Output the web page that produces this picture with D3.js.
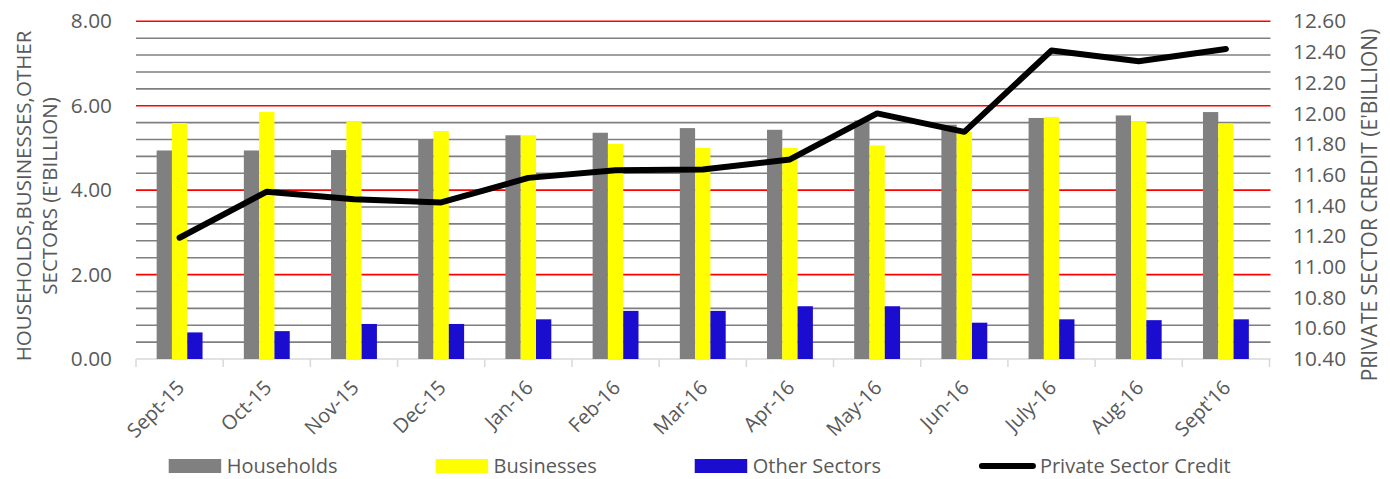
<!DOCTYPE html>
<html>
<head>
<meta charset="utf-8">
<script src="https://cdn.jsdelivr.net/npm/d3@7"></script>
<style>
    body { margin: 0; background: #fff; }
    text { font-family: "Open Sans", sans-serif; fill: #595959; }
</style>
</head>
<body>
<div id="wrapper"></div>
<script>
const months = ["Sept-15", "Oct-15", "Nov-15", "Dec-15", "Jan-16", "Feb-16", "Mar-16", "Apr-16", "May-16", "Jun-16", "July-16", "Aug-16", "Sept'16"];
const households = [4.94, 4.94, 4.95, 5.19, 5.30, 5.36, 5.47, 5.43, 5.65, 5.55, 5.71, 5.77, 5.85];
const businesses = [5.59, 5.85, 5.62, 5.40, 5.30, 5.10, 5.00, 5.00, 5.06, 5.38, 5.73, 5.62, 5.58];
const otherSectors = [0.63, 0.66, 0.83, 0.83, 0.94, 1.14, 1.14, 1.25, 1.25, 0.86, 0.94, 0.92, 0.94];
const privateCredit = [11.19, 11.49, 11.44, 11.42, 11.58, 11.63, 11.635, 11.70, 12.00, 11.88, 12.41, 12.34, 12.42];

const leftTicks = [0, 2, 4, 6, 8];
const rightTicks = [10.4, 10.6, 10.8, 11.0, 11.2, 11.4, 11.6, 11.8, 12.0, 12.2, 12.4, 12.6];
const gridValues = [0.4, 0.8, 1.2, 1.6, 2, 2.4, 2.8, 3.2, 3.6, 4, 4.4, 4.8, 5.2, 5.6, 6, 6.4, 6.8, 7.2, 7.6, 8];

const barSeries = [
    { key: "Households", values: households, color: "#808080" },
    { key: "Businesses", values: businesses, color: "#ffff00" },
    { key: "Other Sectors", values: otherSectors, color: "#1a0dcf" },
];

const dimensions = {
    width: 1390,
    height: 479,
    margin: {
        top: 21.3,
        right: 120.5,
        bottom: 120,
        left: 136,
    },
}
dimensions.right = dimensions.width - dimensions.margin.right;
dimensions.bottom = dimensions.height - dimensions.margin.bottom;

const wrapper = d3.select("#wrapper")
    .append("svg")
    .attr("width", dimensions.width)
    .attr("height", dimensions.height);

const xScale = d3.scaleBand()
    .domain(months)
    .range([dimensions.margin.left, dimensions.right]);

const seriesScale = d3.scaleBand()
    .domain(barSeries.map(d => d.key))
    .range([0, xScale.bandwidth()])
    .paddingInner(0)
    .paddingOuter(1.35);

const yLeft = d3.scaleLinear()
    .domain([0, 8])
    .range([dimensions.bottom, dimensions.margin.top]);

const yRight = d3.scaleLinear()
    .domain([10.4, 12.6])
    .range([dimensions.bottom, dimensions.margin.top]);

// gridlines, red on the labelled values
wrapper.append("g")
    .selectAll("line")
    .data(gridValues)
    .enter()
    .append("line")
    .attr("x1", dimensions.margin.left)
    .attr("x2", dimensions.right + 1)
    .attr("y1", d => yLeft(d))
    .attr("y2", d => yLeft(d))
    .attr("stroke", d => (d % 2 === 0 ? "#ff0000" : "#7f7f7f"))
    .attr("stroke-width", 1.6);

// baseline and category ticks
const xAxisLine = wrapper.append("g");
xAxisLine.append("line")
    .attr("x1", dimensions.margin.left)
    .attr("x2", dimensions.right + 1)
    .attr("y1", dimensions.bottom)
    .attr("y2", dimensions.bottom)
    .attr("stroke", "#d9d9d9")
    .attr("stroke-width", 1.5);
xAxisLine.selectAll(".cat-tick")
    .data([...months.map(m => xScale(m)), dimensions.right])
    .enter()
    .append("line")
    .attr("class", "cat-tick")
    .attr("x1", d => d)
    .attr("x2", d => d)
    .attr("y1", dimensions.bottom)
    .attr("y2", dimensions.bottom + 8)
    .attr("stroke", "#d9d9d9")
    .attr("stroke-width", 1.5);

// bars
barSeries.forEach(s => {
    wrapper.append("g")
        .selectAll("rect")
        .data(s.values)
        .enter()
        .append("rect")
        .attr("x", (d, i) => xScale(months[i]) + seriesScale(s.key))
        .attr("y", d => yLeft(d))
        .attr("width", seriesScale.bandwidth())
        .attr("height", d => yLeft(0) - yLeft(d))
        .attr("fill", s.color);
});

// private sector credit line
const line = d3.line()
    .x((d, i) => xScale(months[i]) + xScale.bandwidth() / 2)
    .y(d => yRight(d));

wrapper.append("path")
    .datum(privateCredit)
    .attr("d", line)
    .attr("fill", "none")
    .attr("stroke", "#000")
    .attr("stroke-width", 6)
    .attr("stroke-linejoin", "round")
    .attr("stroke-linecap", "round");

// axes
const leftAxis = wrapper.append("g")
    .attr("transform", `translate(${dimensions.margin.left},0)`)
    .call(d3.axisLeft(yLeft).tickValues(leftTicks).tickFormat(d3.format(".2f")).tickSize(0).tickPadding(24));

const rightAxis = wrapper.append("g")
    .attr("transform", `translate(${dimensions.right},0)`)
    .call(d3.axisRight(yRight).tickValues(rightTicks).tickFormat(d3.format(".2f")).tickSize(0).tickPadding(23.5));

const bottomAxis = wrapper.append("g")
    .attr("transform", `translate(0,${dimensions.bottom})`)
    .call(d3.axisBottom(xScale).tickSize(0));

[leftAxis, rightAxis, bottomAxis].forEach(ax => {
    ax.attr("font-family", null).attr("font-size", 20);
    ax.select(".domain").remove();
});
leftAxis.attr("font-size", 20.8);
rightAxis.attr("font-size", 20.8);

bottomAxis.selectAll(".tick text")
    .attr("x", 0)
    .attr("y", 0)
    .attr("dy", 0)
    .attr("text-anchor", "end")
    .attr("transform", "translate(6,30) rotate(-45)");

// axis titles
const leftTitle = wrapper.append("text")
    .attr("transform", `translate(31,196) rotate(-90)`)
    .attr("text-anchor", "middle")
    .attr("font-size", 20.5);
leftTitle.append("tspan").attr("x", 0).attr("y", 0).text("HOUSEHOLDS,BUSINESSES,OTHER");
leftTitle.append("tspan").attr("x", 0).attr("y", 26).text("SECTORS (E'BILLION)");

wrapper.append("text")
    .attr("transform", `translate(1377,205) rotate(-90)`)
    .attr("text-anchor", "middle")
    .attr("font-size", 21)
    .text("PRIVATE SECTOR CREDIT (E'BILLION)");

// legend
const legendItems = [
    ...barSeries.map(s => ({ key: s.key, color: s.color, type: "bar" })),
    { key: "Private Sector Credit", color: "#000", type: "line" },
];

let legendX = 168.7;
const legendY = 466;
legendItems.forEach(item => {
    const g = wrapper.append("g").attr("transform", `translate(${legendX},${legendY})`);
    if (item.type === "bar") {
        g.append("rect")
            .attr("x", 0)
            .attr("y", -7)
            .attr("width", 52.5)
            .attr("height", 14)
            .attr("fill", item.color);
    } else {
        g.append("line")
            .attr("x1", 3)
            .attr("x2", 54)
            .attr("y1", 0)
            .attr("y2", 0)
            .attr("stroke", item.color)
            .attr("stroke-width", 6)
            .attr("stroke-linecap", "round");
    }
    const label = g.append("text")
        .attr("x", item.type === "bar" ? 58 : 61)
        .attr("y", 7)
        .attr("font-size", 20)
        .text(item.key);
    legendX += (item.type === "bar" ? 58 : 61) + label.node().getComputedTextLength() + 98;
});
</script>
</body>
</html>
